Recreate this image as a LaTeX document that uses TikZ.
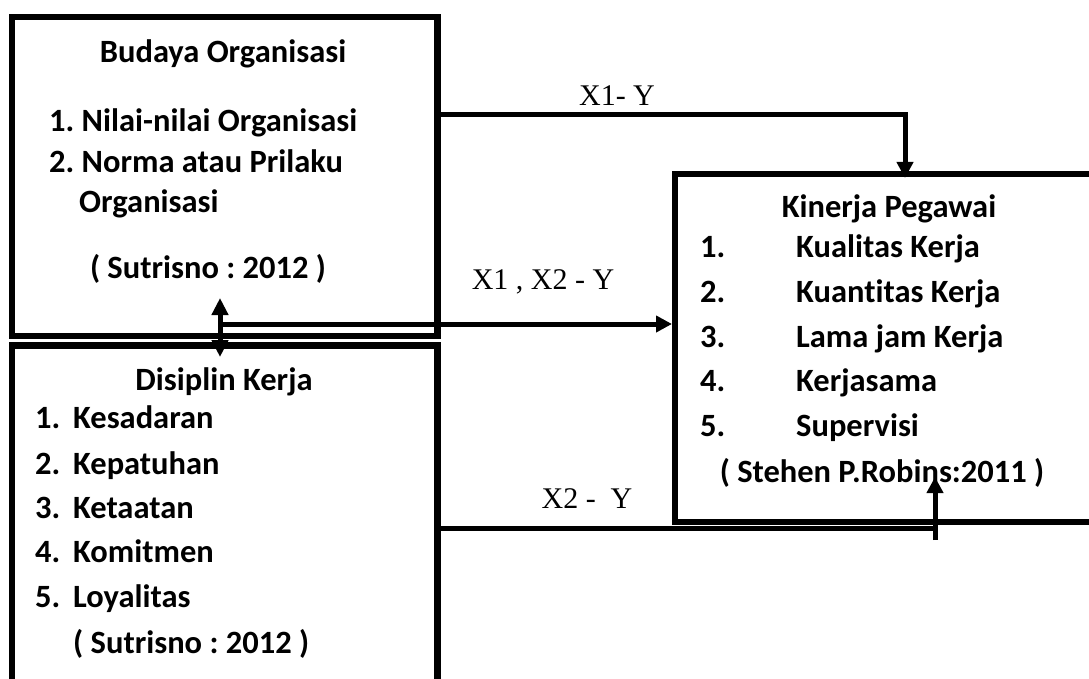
\documentclass[tikz,border=0pt]{standalone}
\usepackage{fontspec}
\setmainfont{Carlito}[RawFeature={-liga}]
\newfontfamily\timesf{Liberation Serif}
\usetikzlibrary{arrows.meta,calc}
\begin{document}
\frenchspacing
\begin{tikzpicture}[x=1pt,y=-1pt,
  box/.style={draw,line width=6.5pt,inner sep=0pt,outer sep=0pt},
  conn/.style={line width=5pt},
  tip/.style={-{Triangle[length=16pt,width=16pt]}},
  dtip/.style={{Triangle[length=17pt,width=16pt]}-{Triangle[length=17pt,width=16pt]}},
  txt/.style={font=\fontsize{32.5}{38}\selectfont\bfseries,inner sep=0pt},
  lbl/.style={font=\timesf\fontsize{30}{36}\selectfont,inner sep=0pt}]
\useasboundingbox (0,0) rectangle (1089,679);
\clip (0,0) rectangle (1089,679);
\fill[white] (0,0) rectangle (1089,679);

% boxes
\node[box,minimum width=425.5pt,minimum height=319pt] (bo) at (224.75,176.5) {};
\node[box,minimum width=425.5pt,minimum height=360pt] (dk) at (224.75,525.5) {};
\node[box,minimum width=440pt,minimum height=348pt] (kp) at (895,348) {};

% Budaya Organisasi text
\node[txt,anchor=base] (bt) at (223,63) {Budaya Organisasi};
\node[txt,anchor=base west] (b1) at (49,132) {1. Nilai-nilai Organisasi};
\node[txt,anchor=base west] (b2) at (49,173) {2. Norma atau Prilaku};
\node[txt,anchor=base west] (b3) at (79,212) {Organisasi};
\node[txt,anchor=base] (bs) at (208,278) {( Sutrisno : 2012 )};

% Disiplin Kerja text
\node[txt,anchor=base] (dt) at (224,390) {Disiplin Kerja};
\node[txt,anchor=base west] (d1) at (35,428) {\makebox[38pt][l]{1.}Kesadaran};
\node[txt,anchor=base west] (d2) at (35,474) {\makebox[38pt][l]{2.}Kepatuhan};
\node[txt,anchor=base west] (d3) at (35,518) {\makebox[38pt][l]{3.}Ketaatan};
\node[txt,anchor=base west] (d4) at (35,562) {\makebox[38pt][l]{4.}Komitmen};
\node[txt,anchor=base west] (d5) at (35,607) {\makebox[38pt][l]{5.}Loyalitas};
\node[txt,anchor=base west] (ds) at (73,653) {( Sutrisno : 2012 )};

% Kinerja Pegawai text
\node[txt,anchor=base] (kt) at (889,218) {Kinerja Pegawai};
\node[txt,anchor=base west] (k1) at (700,257) {\makebox[96pt][l]{1.}Kualitas Kerja};
\node[txt,anchor=base west] (k2) at (700,302) {\makebox[96pt][l]{2.}Kuantitas Kerja};
\node[txt,anchor=base west] (k3) at (700,347) {\makebox[96pt][l]{3.}Lama jam Kerja};
\node[txt,anchor=base west] (k4) at (700,391) {\makebox[96pt][l]{4.}Kerjasama};
\node[txt,anchor=base west] (k5) at (700,436) {\makebox[96pt][l]{5.}Supervisi};
\node[txt,anchor=base] (ks) at (882,482) {( Stehen P.Robins:2011 )};

% connector labels
\node[lbl,anchor=base] (l1) at (617,106) {X1- Y};
\node[lbl,anchor=base] (l2) at (543,289) {X1 , X2 - Y};
\node[lbl,anchor=base] (l3) at (587,508) {X2 -\ \ Y};

% connectors
\coordinate (ya) at (0,115);
\coordinate (yb) at (0,324);
\coordinate (yc) at (0,528);
\coordinate (c1) at (220,324);
\coordinate (ua) at (220,298);
\coordinate (da) at (220,357);
\coordinate (ub) at (935,540);
\coordinate (ue) at (935,477);
\draw[conn,tip] (bo.east |- ya) -| ($(kp.north west)+(230,4)$);
\draw[conn,tip] (c1) -- ($(kp.west |- yb)+(-3,0)$);
\draw[conn,dtip] (ua) -- (da);
\draw[conn] (dk.east |- yc) -- (ub |- yc);
\draw[conn,tip] (ub) -- (ue);
\end{tikzpicture}
\end{document}
